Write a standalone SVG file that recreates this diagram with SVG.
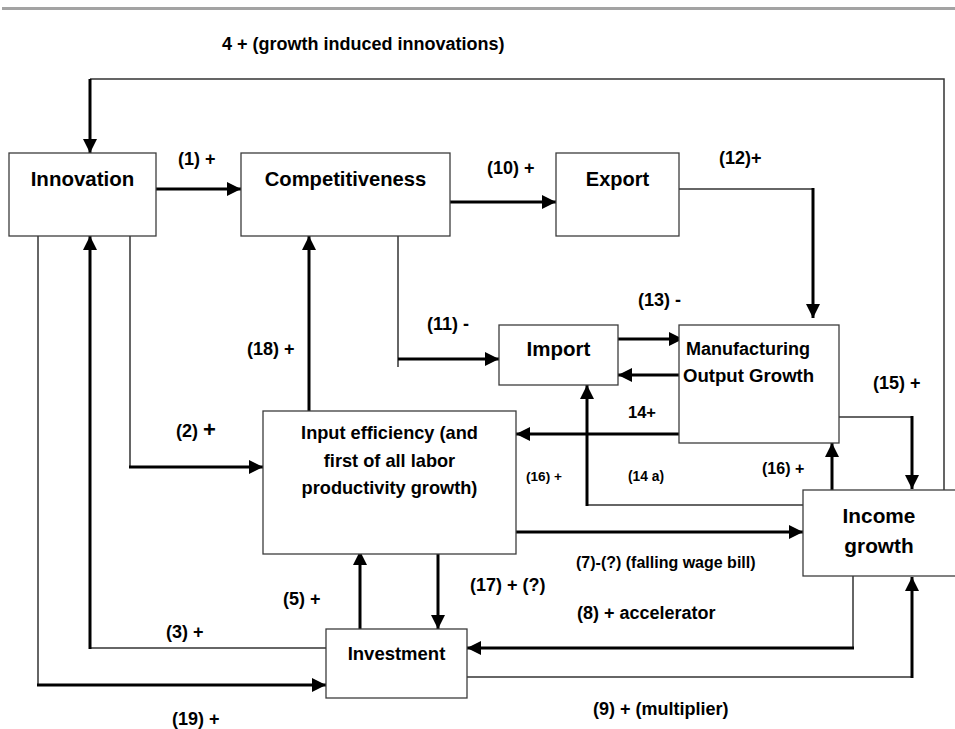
<svg xmlns="http://www.w3.org/2000/svg" width="955" height="729" viewBox="0 0 955 729">
<defs>
<marker id="ah" markerUnits="userSpaceOnUse" markerWidth="14" markerHeight="14" viewBox="0 0 14 14" refX="14" refY="7" orient="auto">
<path d="M0,0 L14,7 L0,14 z" fill="#000"/>
</marker>
<style>
.box{fill:#fff;stroke:#3c3c3c;stroke-width:1.3}
.nt{font-family:"Liberation Sans",Arial,sans-serif;font-weight:bold;fill:#000;text-anchor:middle}
.lb{font-family:"Liberation Sans",Arial,sans-serif;font-weight:bold;fill:#000;font-size:18px}
.thin{fill:none;stroke:#333;stroke-width:1.5}
.thick{fill:none;stroke:#000;stroke-width:3}
.arr{marker-end:url(#ah)}
</style>
</defs>
<rect x="2" y="7" width="953" height="3" fill="#a3a3a3"/>

<g id="connectors">
<!-- (4) growth induced innovations -->
<polyline class="thin" points="944,490 944,79 90,79"/>
<line class="thick arr" x1="90" y1="79" x2="90" y2="153"/>
<!-- (1) -->
<line class="thick arr" x1="156" y1="189" x2="241" y2="189"/>
<!-- (10) -->
<line class="thick arr" x1="450" y1="202" x2="556" y2="202"/>
<!-- (12) -->
<polyline class="thin" points="679,189 813,189"/>
<line class="thick arr" x1="813" y1="188" x2="813" y2="318"/>
<!-- (11) -->
<line class="thin" x1="398" y1="236" x2="398" y2="367"/>
<line class="thick arr" x1="398" y1="359" x2="499" y2="359"/>
<!-- (13) -->
<line class="thick arr" x1="618" y1="339" x2="683" y2="339"/>
<!-- Manufacturing -> Import -->
<line class="thick arr" x1="679" y1="375" x2="618" y2="375"/>
<!-- 14+ -->
<line class="thick arr" x1="679" y1="434" x2="516" y2="434"/>
<!-- (18) -->
<line class="thick arr" x1="309" y1="411" x2="309" y2="236"/>
<!-- (2) -->
<line class="thin" x1="130" y1="236" x2="130" y2="467"/>
<line class="thick arr" x1="129" y1="467" x2="263" y2="467"/>
<!-- (3) -->
<line class="thin" x1="333" y1="648" x2="90" y2="648"/>
<line class="thick arr" x1="90" y1="649" x2="90" y2="236"/>
<!-- (19) -->
<line class="thin" x1="38" y1="236" x2="38" y2="685"/>
<line class="thick arr" x1="37" y1="685" x2="326" y2="685"/>
<!-- (5) -->
<line class="thick arr" x1="360" y1="629" x2="360" y2="551"/>
<!-- (17) -->
<line class="thick arr" x1="438" y1="548" x2="438" y2="629"/>
<!-- (7) -->
<line class="thick arr" x1="516" y1="532" x2="803" y2="532"/>
<!-- (8) -->
<line class="thin" x1="853" y1="576" x2="853" y2="648"/>
<line class="thick arr" x1="854" y1="648" x2="467" y2="648"/>
<!-- (9) -->
<line class="thin" x1="467" y1="677" x2="912" y2="677"/>
<line class="thick arr" x1="912" y1="678" x2="912" y2="577"/>
<!-- (14 a) -->
<line class="thin" x1="803" y1="505" x2="587" y2="505"/>
<line class="thick arr" x1="587" y1="506" x2="587" y2="385"/>
<!-- (16) -->
<line class="thick arr" x1="832" y1="490" x2="832" y2="443"/>
<!-- (15) -->
<line class="thin" x1="839" y1="417" x2="912" y2="417"/>
<line class="thick arr" x1="912" y1="416" x2="912" y2="489"/>
</g>

<g id="innovation">
<rect class="box" x="9" y="153" width="147" height="83"/>
<text class="nt" x="82.5" y="186" font-size="20.5">Innovation</text>
</g>
<g id="competitiveness">
<rect class="box" x="241" y="153" width="209" height="83"/>
<text class="nt" x="345.5" y="186" font-size="20.2">Competitiveness</text>
</g>
<g id="export">
<rect class="box" x="556" y="153" width="123" height="83"/>
<text class="nt" x="617.5" y="186" font-size="20">Export</text>
</g>
<g id="import">
<rect class="box" x="499" y="325" width="119" height="60"/>
<text class="nt" x="558.5" y="356" font-size="20.5">Import</text>
</g>
<g id="manufacturing">
<rect class="box" x="679" y="325" width="160" height="118"/>
<text class="nt" x="686" y="355" font-size="18" text-anchor="start" style="text-anchor:start">Manufacturing</text>
<text class="nt" x="683" y="382" font-size="18.6" style="text-anchor:start">Output Growth</text>
</g>
<g id="input-efficiency">
<rect class="box" x="263" y="411" width="253" height="143"/>
<text class="nt" x="389.5" y="439" font-size="18.2">Input efficiency (and</text>
<text class="nt" x="389.5" y="467" font-size="18.2">first of all labor</text>
<text class="nt" x="389.5" y="494" font-size="18.2">productivity growth)</text>
</g>
<g id="investment">
<rect class="box" x="326" y="629" width="141" height="69"/>
<text class="nt" x="396.5" y="660" font-size="18.5">Investment</text>
</g>
<g id="income-growth">
<rect class="box" x="803" y="490" width="154" height="86"/>
<text class="nt" x="879" y="523" font-size="20.8">Income</text>
<text class="nt" x="879" y="553" font-size="20.8">growth</text>
</g>

<g id="labels">
<text class="lb" x="222" y="50">4 + (growth induced innovations)</text>
<text class="lb" x="178" y="165">(1) +</text>
<text class="lb" x="487" y="174">(10) +</text>
<text class="lb" x="719" y="164">(12)+</text>
<text class="lb" x="638" y="306">(13) -</text>
<text class="lb" x="427" y="330">(11) -</text>
<text class="lb" x="247" y="355">(18) +</text>
<text class="lb" x="176" y="437">(2) <tspan font-size="22">+</tspan></text>
<text class="lb" x="628" y="418" font-size="16.5" style="font-size:16.5px">14+</text>
<text class="lb" x="526" y="481" style="font-size:13.6px">(16) +</text>
<text class="lb" x="628" y="481" style="font-size:13.8px">(14 a)</text>
<text class="lb" x="762" y="474" style="font-size:16px">(16) +</text>
<text class="lb" x="873" y="389">(15) +</text>
<text class="lb" x="283" y="605">(5) +</text>
<text class="lb" x="166" y="638">(3) +</text>
<text class="lb" x="172" y="725">(19) +</text>
<text class="lb" x="470" y="591">(17) + (?)</text>
<text class="lb" x="576" y="568" style="font-size:16px">(7)-(?) (falling wage bill)</text>
<text class="lb" x="577" y="619">(8) + accelerator</text>
<text class="lb" x="593" y="715">(9) + (multiplier)</text>
</g>
</svg>
